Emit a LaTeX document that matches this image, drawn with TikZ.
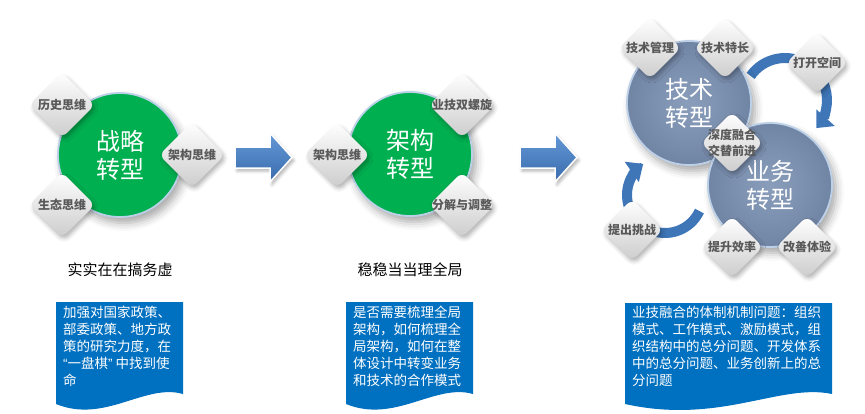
\documentclass[tikz,border=0pt]{standalone}
\usepackage{fontspec}
\setmainfont{Noto Sans CJK SC}
\newfontfamily\latinf{Liberation Sans}
\usetikzlibrary{shadows.blur,arrows.meta,shapes.geometric}
\definecolor{gfill}{RGB}{0,176,80}
\definecolor{gedge}{RGB}{188,208,232}
\definecolor{bfill}{RGB}{112,132,164}
\definecolor{bfillin}{RGB}{138,158,188}
\definecolor{boxblue}{RGB}{0,112,192}
\definecolor{arr}{RGB}{62,118,184}
\definecolor{arrtop}{RGB}{100,152,215}
\definecolor{arrbot}{RGB}{58,108,172}
\definecolor{dtext}{RGB}{89,89,89}
\newcommand\dtx[1]{\makebox[0pt]{#1}}
\newcommand\lqt{{\latinf “}}
\newcommand\rqt{{\latinf ”}}
\tikzset{
  circ/.style={circle, minimum size=124pt, inner sep=0pt, draw=gedge, line width=1.8pt,
    text=white, align=center, font=\fontsize{24}{28}\selectfont,
    blur shadow={shadow xshift=4pt, shadow yshift=-6pt, shadow blur radius=8pt, shadow opacity=35}},
  gcirc/.style={circ, fill=gfill},
  bcirc/.style={circ, inner color=bfillin, outer color=bfill},
  dia/.style={diamond, aspect=1, minimum width=66pt, minimum height=66pt, inner sep=0pt,
    rounded corners=7pt, top color=white, bottom color=black!20, text=dtext,
    font=\fontsize{12}{14.5}\selectfont\bfseries,
    blur shadow={shadow xshift=2pt, shadow yshift=-3pt, shadow blur radius=4pt, shadow opacity=30}},
  smalldia/.style={dia, minimum width=62pt, minimum height=62pt},
  docbox/.style={fill=boxblue},
  boxtext/.style={anchor=north west, text=white, align=left, inner sep=0pt,
    font=\fontsize{13.5}{17}\selectfont},
  lbl/.style={text=black, font=\fontsize{15}{18}\selectfont, inner sep=0pt},
  bigarr/.style={top color=arrtop, bottom color=arrbot, draw=white, line width=1.5pt,
    blur shadow={shadow xshift=2pt, shadow yshift=-3pt, shadow blur radius=3pt, shadow opacity=30}},
  arcarr/.style={draw=arr, line width=10pt, -{Triangle[width=24pt,length=14pt]}}
}
\begin{document}
\begin{tikzpicture}[x=1pt,y=-1pt]
\useasboundingbox (0,0) rectangle (865,413);

% ---------- cluster 1 ----------
\node[gcirc] (c1) at (120,155) {战略\\转型};
\node[dia] (d11) at (62,105) {\dtx{历史思维}};
\node[dia] (d12) at (192,155) {\dtx{架构思维}};
\node[dia] (d13) at (62,205) {\dtx{生态思维}};

% ---------- arrow 1 ----------
\path[bigarr] (235,147) -- (270,147) -- (270,133) -- (292,157.5) -- (270,182) -- (270,168) -- (235,168) -- cycle;

% ---------- cluster 2 ----------
\node[gcirc] (c2) at (410,154) {架构\\转型};
\node[dia] (d21) at (337,155) {\dtx{架构思维}};
\node[dia] (d22) at (462,105) {\dtx{业技双螺旋}};
\node[dia] (d23) at (462,205) {\dtx{分解与调整}};

% ---------- arrow 2 ----------
\path[bigarr] (520,147) -- (555,147) -- (555,133) -- (577,157.5) -- (555,182) -- (555,168) -- (520,168) -- cycle;

% ---------- cluster 3 ----------
\coordinate (o1) at (785,100);
\coordinate (o2) at (665,195);
\draw[arcarr] (o1) ++(215:42) arc[start angle=215, end angle=402, radius=42];
\draw[arcarr] (o2) ++(25:38) arc[start angle=25, end angle=235, radius=38];

\node[bcirc] (c3) at (689,103) {技术\\转型};
\node[bcirc] (c4) at (770,185) {业务\\转型};

\node[smalldia] (d31) at (650,48) {\dtx{技术管理}};
\node[smalldia] (d32) at (725,48) {\dtx{技术特长}};
\node[smalldia] (d33) at (817,63) {\dtx{打开空间}};
\node[smalldia] (d34) at (732,143) {\dtx{\shortstack{深度融合\\[1pt]交替前进}}};
\node[smalldia] (d35) at (632,230) {\dtx{提出挑战}};
\node[smalldia] (d36) at (732,247) {\dtx{提升效率}};
\node[smalldia] (d37) at (807,247) {\dtx{改善体验}};

% ---------- labels ----------
\node[lbl] (l1) at (120,270) {实实在在搞务虚};
\node[lbl] (l2) at (410,270) {稳稳当当理全局};

% ---------- text boxes ----------
\path[docbox] (56,302) -- (183,302) -- (183,394) .. controls (145,383) and (105,424) .. (56,404) -- cycle;
\node[boxtext] (t1) at (63,306) {加强对国家政策、\\部委政策、地方政\\策的研究力度，在\\\lqt 一盘棋\rqt\ 中找到使\\命};

\path[docbox] (346,302) -- (473,302) -- (473,394) .. controls (435,383) and (395,424) .. (346,404) -- cycle;
\node[boxtext] (t2) at (353,306) {是否需要梳理全局\\架构，如何梳理全\\局架构，如何在整\\体设计中转变业务\\和技术的合作模式};

\path[docbox] (625,303) -- (832,303) -- (832,394) .. controls (780,383) and (720,425) .. (625,404) -- cycle;
\node[boxtext] (t3) at (632,306) {业技融合的体制机制问题：组织\\模式、工作模式、激励模式，组\\织结构中的总分问题、开发体系\\中的总分问题、业务创新上的总\\分问题};
\end{tikzpicture}
\end{document}
